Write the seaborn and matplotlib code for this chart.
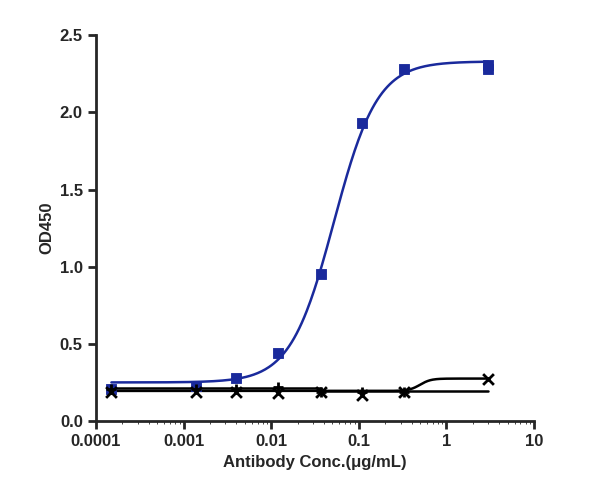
import numpy as np
import pandas as pd
import matplotlib.pyplot as plt
import seaborn as sns

# data
conc = [0.00015, 0.0014, 0.004, 0.012, 0.037, 0.11, 0.33, 3.0]
od_target = [0.21, 0.23, 0.28, 0.44, 0.95, 1.93, 2.28, 2.31]
od_target_dup3 = 2.28
od_ctrl_x = [0.19, 0.19, 0.19, 0.18, 0.19, 0.17, 0.19, 0.27]
od_ctrl_plus = [0.21, 0.21, 0.21, 0.22, 0.19, 0.19, 0.19, 0.19]

def fourpl(x, bottom, top, ec50, hill):
    return bottom + (top - bottom) / (1 + (ec50 / x) ** hill)

sns.set_style("ticks")
plt.rcParams['font.family'] = ['Liberation Sans', 'DejaVu Sans']
fig, ax = plt.subplots(figsize=(6.0, 5.03), dpi=100)

xs = np.logspace(np.log10(0.00015), np.log10(3), 300)
blue = "#1a2a9c"
ax.plot(xs, fourpl(xs, 0.25, 2.33, 0.052, 1.75), color=blue, lw=1.8)
ax.plot(xs, fourpl(xs, 0.195, 0.275, 0.5, 7), color="black", lw=1.8)
xp = [c for c in xs if c <= 0.037]
ax.plot(xp, [0.212] * len(xp), color="black", lw=1.8)
ax.plot([0.037, 3], [0.197, 0.197], color="black", lw=1.8)

df = pd.DataFrame({"conc": conc + [3.0], "od": od_target + [od_target_dup3]})
sns.scatterplot(data=df, x="conc", y="od", marker="s", color=blue, s=60, edgecolor=blue, ax=ax, zorder=3)
sns.scatterplot(x=conc, y=od_ctrl_x, marker="x", color="black", s=60, linewidth=2, ax=ax, zorder=3)
sns.scatterplot(x=conc[:-1], y=od_ctrl_plus[:-1], marker="+", color="black", s=60, linewidth=2, ax=ax, zorder=3)

ax.set_xscale("log")
ax.set_xlim(0.0001, 10)
ax.set_ylim(0, 2.5)
ax.set_xticks([0.0001, 0.001, 0.01, 0.1, 1, 10])
ax.set_xticklabels(["0.0001", "0.001", "0.01", "0.1", "1", "10"])
ax.set_yticks(np.arange(0, 2.51, 0.5))
ax.set_yticklabels([f"{v:.1f}" for v in np.arange(0, 2.51, 0.5)])
ax.tick_params(labelsize=12, width=2, length=6)
for lab in ax.get_xticklabels() + ax.get_yticklabels():
    lab.set_fontweight("bold")
for s in ["left", "bottom"]:
    ax.spines[s].set_linewidth(2)
sns.despine(ax=ax)
ax.set_xlabel("Antibody Conc.(μg/mL)", fontsize=12, fontweight="bold")
ax.set_ylabel("OD450", fontsize=12, fontweight="bold")
fig.subplots_adjust(left=0.16, right=0.89, top=0.93, bottom=0.163)
fig.savefig("out.png")
